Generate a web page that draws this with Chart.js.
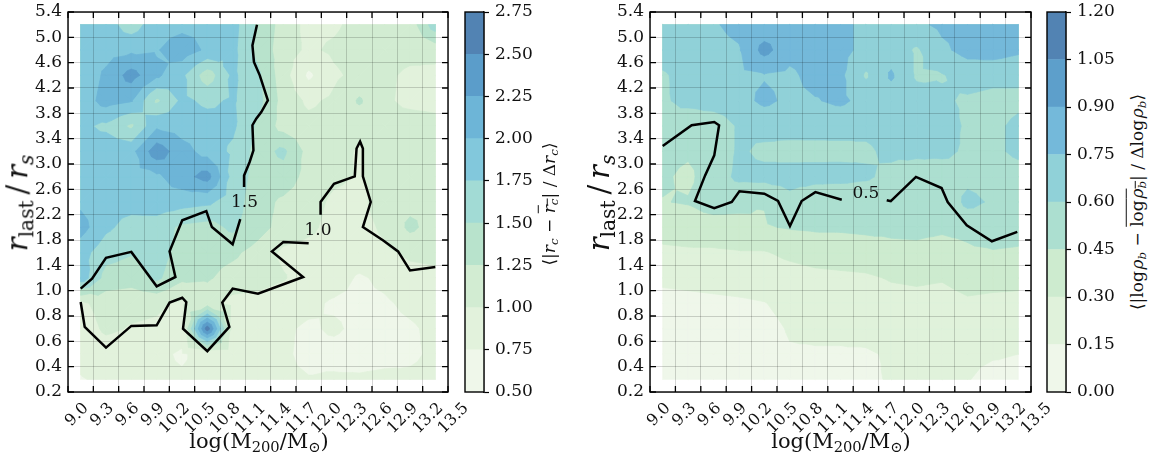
<!DOCTYPE html>
<html>
<head>
<meta charset="utf-8">
<script src="https://cdn.jsdelivr.net/npm/chart.js@4.4.0/dist/chart.umd.min.js"></script>
<style>
  body { margin: 0; background: #fff; width: 1159px; height: 466px; position: relative; overflow: hidden; font-family: 'DejaVu Serif', serif; color: #111; }
  canvas { position: absolute; top: 0; }
  .t { position: absolute; white-space: nowrap; transform: translate(-50%, -50%); line-height: 1; }
  .rot { transform: translate(-50%, -50%) rotate(-90deg); }
  sub { font-size: 70%; vertical-align: -0.3em; }
  .ov { text-decoration: overline; }
</style>
</head>
<body>
<canvas id="f1" width="480" height="466" style="left:0"></canvas>
<canvas id="c1" width="80" height="466" style="left:455px"></canvas>
<canvas id="f2" width="481" height="466" style="left:582px"></canvas>
<canvas id="c2" width="80" height="466" style="left:1037px"></canvas>

<div class="t rot" style="left:20px;top:203px;font-size:29px"><i>r</i><sub>last</sub>&thinsp;/&thinsp;<i>r</i><sub><i>s</i></sub></div>
<div class="t rot" style="left:602px;top:203px;font-size:29px"><i>r</i><sub>last</sub>&thinsp;/&thinsp;<i>r</i><sub><i>s</i></sub></div>
<div class="t" style="left:259px;top:443px;font-size:21px">log(M<sub>200</sub>/M<sub>⊙</sub>)</div>
<div class="t" style="left:841px;top:443px;font-size:21px">log(M<sub>200</sub>/M<sub>⊙</sub>)</div>
<div class="t rot" style="left:551px;top:204px;font-size:17px">⟨|<i>r</i><sub><i>c</i></sub> − <span class="ov"><i>r</i><sub><i>c</i></sub></span>| / Δ<i>r</i><sub><i>c</i></sub>⟩</div>
<div class="t rot" style="left:1139px;top:202px;font-size:17px">⟨|log&#8202;<i>ρ</i><sub><i>b</i></sub> − <span class="ov">log&#8202;<i>ρ</i><sub><i>b</i></sub></span>| / Δlog&#8202;<i>ρ</i><sub><i>b</i></sub>⟩</div>

<script>
// bin edges, used as tick labels (axes run over bin index 0..15)
const massEdges = ['9.0', '9.3', '9.6', '9.9', '10.2', '10.5', '10.8', '11.1', '11.4', '11.7', '12.0', '12.3', '12.6', '12.9', '13.2', '13.5'];
const rEdges = ['0.2', '0.4', '0.6', '0.8', '1.0', '1.4', '1.8', '2.2', '2.6', '3.0', '3.4', '3.8', '4.2', '4.6', '5.0', '5.4'];

// contour levels and fill colours
const rcLevels = [0.5, 0.75, 1.0, 1.25, 1.5, 1.75, 2.0, 2.25, 2.5, 2.75];
const rcColors = ['#eff7ea', '#e2f2dc', '#d2ecd2', '#b8e3cc', '#a2dbd5', '#82c8dc', '#6db5d7', '#5b9dca', '#5283b3'];
const rhoLevels = [0, 0.15, 0.3, 0.45, 0.6, 0.75, 0.9, 1.05, 1.2];
const rhoColors = ['#eff7ea', '#e0f2db', '#cdebcf', '#acdfd0', '#90d1d8', '#74b9da', '#5d9fcb', '#5283b3'];

// <|r_c - mean r_c| / dr_c> per bin; first row is the top one (r ~ 5.2), columns 9.15 .. 13.35
const rcGrid = [
  [1.88, 1.86, 1.62, 1.90, 1.92, 1.95, 1.85, 1.45, 1.15, 0.92, 0.95, 1.10, 1.15, 1.10, 1.65],
  [1.85, 1.90, 1.95, 1.98, 2.15, 1.95, 1.82, 1.42, 1.12, 0.95, 1.05, 1.15, 1.12, 1.08, 1.10],
  [1.80, 2.05, 2.35, 2.05, 1.80, 1.35, 1.80, 1.55, 1.10, 0.70, 0.95, 1.08, 1.05, 0.95, 0.92],
  [1.85, 2.10, 2.02, 1.45, 1.80, 1.70, 1.78, 1.58, 1.15, 0.95, 1.05, 1.28, 1.05, 0.92, 0.90],
  [1.80, 1.70, 1.45, 1.95, 1.88, 1.85, 1.80, 1.45, 1.15, 1.08, 1.10, 1.10, 1.12, 1.15, 1.10],
  [1.85, 1.90, 1.92, 2.40, 2.10, 1.90, 1.70, 1.40, 1.55, 1.15, 1.10, 0.97, 1.12, 1.15, 1.12],
  [1.85, 1.88, 1.90, 1.95, 2.15, 2.35, 1.65, 1.40, 1.40, 1.15, 1.05, 0.98, 1.10, 1.15, 1.15],
  [1.95, 1.85, 1.85, 1.90, 1.85, 1.80, 1.62, 1.35, 1.20, 1.10, 0.95, 0.92, 1.15, 1.18, 1.20],
  [2.10, 1.80, 1.65, 1.62, 1.45, 1.40, 1.55, 1.35, 1.15, 1.05, 0.92, 0.90, 1.05, 1.30, 1.15],
  [1.85, 1.60, 1.52, 1.62, 1.40, 1.35, 1.30, 1.15, 0.95, 0.92, 0.90, 0.88, 0.95, 1.05, 1.08],
  [1.90, 1.40, 1.35, 1.55, 1.30, 1.28, 1.15, 1.10, 1.02, 0.88, 0.85, 0.72, 0.80, 0.90, 0.92],
  [0.95, 1.10, 1.08, 1.05, 0.95, 1.10, 0.92, 0.90, 0.85, 0.80, 0.72, 0.70, 0.72, 0.80, 0.85],
  [0.85, 1.05, 0.98, 0.95, 0.85, 2.65, 0.90, 0.85, 0.78, 0.72, 0.78, 0.70, 0.68, 0.72, 0.80],
  [0.80, 0.85, 0.82, 0.80, 0.72, 0.85, 0.82, 0.80, 0.78, 0.70, 0.68, 0.66, 0.68, 0.72, 0.78],
  [0.74, 0.78, 0.80, 0.80, 0.78, 0.80, 0.80, 0.78, 0.78, 0.76, 0.78, 0.78, 0.80, 0.78, 0.80]
];

// <|log rho_b - mean log rho_b| / dlog rho_b>, same layout
const rhoGrid = [
  [0.70, 0.72, 0.74, 0.78, 0.80, 0.82, 0.80, 0.78, 0.72, 0.70, 0.72, 0.78, 0.80, 0.82, 0.80],
  [0.68, 0.70, 0.72, 0.74, 0.95, 0.80, 0.82, 0.80, 0.70, 0.68, 0.58, 0.72, 0.80, 0.82, 0.78],
  [0.58, 0.66, 0.70, 0.72, 0.74, 0.72, 0.80, 0.78, 0.58, 0.77, 0.58, 0.59, 0.66, 0.64, 0.62],
  [0.58, 0.64, 0.68, 0.70, 0.78, 0.72, 0.74, 0.78, 0.70, 0.68, 0.66, 0.62, 0.58, 0.56, 0.58],
  [0.56, 0.50, 0.49, 0.62, 0.65, 0.66, 0.65, 0.64, 0.63, 0.65, 0.67, 0.66, 0.58, 0.58, 0.62],
  [0.49, 0.47, 0.50, 0.62, 0.57, 0.55, 0.56, 0.57, 0.58, 0.63, 0.64, 0.63, 0.58, 0.58, 0.62],
  [0.47, 0.42, 0.53, 0.63, 0.64, 0.66, 0.65, 0.64, 0.62, 0.56, 0.50, 0.53, 0.56, 0.54, 0.56],
  [0.445, 0.46, 0.52, 0.49, 0.455, 0.55, 0.48, 0.49, 0.50, 0.50, 0.46, 0.47, 0.64, 0.58, 0.56],
  [0.36, 0.37, 0.38, 0.40, 0.44, 0.46, 0.47, 0.47, 0.48, 0.48, 0.48, 0.47, 0.48, 0.52, 0.51],
  [0.27, 0.28, 0.28, 0.29, 0.29, 0.33, 0.36, 0.37, 0.38, 0.41, 0.42, 0.40, 0.43, 0.44, 0.43],
  [0.18, 0.19, 0.20, 0.21, 0.22, 0.24, 0.26, 0.27, 0.28, 0.31, 0.32, 0.31, 0.35, 0.34, 0.33],
  [0.10, 0.11, 0.12, 0.13, 0.145, 0.19, 0.19, 0.20, 0.22, 0.25, 0.26, 0.25, 0.28, 0.27, 0.27],
  [0.08, 0.09, 0.09, 0.10, 0.11, 0.16, 0.17, 0.17, 0.18, 0.20, 0.20, 0.19, 0.22, 0.21, 0.21],
  [0.07, 0.08, 0.08, 0.09, 0.10, 0.14, 0.14, 0.14, 0.14, 0.16, 0.17, 0.16, 0.17, 0.16, 0.15],
  [0.06, 0.07, 0.07, 0.08, 0.09, 0.10, 0.11, 0.12, 0.13, 0.16, 0.16, 0.16, 0.155, 0.12, 0.12]
];

// contour lines, in bin-index coordinates (split where the inline label sits)
const rcLine15a = [[7.46, 14.5], [7.28, 13.68], [7.34, 13.03], [7.57, 12.5], [7.89, 11.51], [7.63, 11.05], [7.43, 10.79], [7.28, 10.53], [7.32, 9.54], [7.17, 9.08], [6.95, 8.55], [6.95, 8.09]];
const rcLine15b = [[6.8, 6.82], [6.5, 5.83], [5.68, 6.51], [5.46, 7.14], [4.51, 6.78], [4.01, 5.55], [4.24, 4.54], [3.5, 4.17], [2.5, 5.53], [1.5, 5.3], [0.95, 4.47], [0.5, 4.08]];
const rcLine10a = [[0.5, 3.55], [0.66, 2.57], [1.5, 1.75], [2.5, 2.61], [3.5, 2.63], [4.01, 3.53], [4.51, 3.72], [4.67, 3.55], [4.54, 2.5], [5.5, 1.61], [6.37, 2.57], [6.09, 3.53], [6.5, 4.08], [7.5, 3.88], [9.28, 4.54], [8.05, 5.55], [8.5, 5.92], [9.5, 5.87]];
const rcLine10b = [[9.97, 7.0], [9.97, 7.5], [10.5, 8.22], [11.32, 8.51], [11.39, 9.61], [11.53, 9.89], [11.64, 9.61], [11.64, 8.51], [11.95, 7.5], [11.64, 6.51], [12.43, 5.99], [13.03, 5.55], [13.5, 4.8], [14.5, 4.93]];
const rhoLine05a = [[0.5, 9.71], [1.64, 10.53], [2.53, 10.66], [2.72, 10.53], [2.53, 9.34], [2.17, 8.55], [1.77, 7.54], [2.53, 7.26], [3.22, 7.5], [3.52, 7.92], [4.5, 7.83], [5.04, 7.54], [5.51, 6.55], [5.97, 7.54], [6.51, 7.89], [7.55, 7.59]];
const rhoLine05b = [[9.32, 7.57], [9.48, 7.53], [10.47, 8.49], [11.48, 8.05], [11.72, 7.5], [12.47, 6.58], [13.46, 5.95], [14.46, 6.32]];

// inline contour labels: [text, x, y]
const rcLabels = [['1.5', 6.97, 7.47], ['1.0', 9.87, 6.38]];
const rhoLabels = [['0.5', 8.5, 7.83]];

Chart.defaults.font.family = "'DejaVu Serif', serif";
Chart.defaults.font.size = 17;
Chart.defaults.color = '#111';

// part of a triangle where the linear field is >= t
function clipAbove(poly, t) {
  const out = [];
  for (let q = 0; q < poly.length; q++) {
    const p1 = poly[q], p2 = poly[(q + 1) % poly.length];
    const in1 = p1.v >= t, in2 = p2.v >= t;
    if (in1) out.push(p1);
    if (in1 !== in2) {
      const f = (t - p1.v) / (p2.v - p1.v);
      out.push({ x: p1.x + f * (p2.x - p1.x), y: p1.y + f * (p2.y - p1.y), v: t });
    }
  }
  return out;
}

function framePlugin(tickLen) {
  return {
    id: 'frame',
    afterDraw(chart) {
      const { ctx, chartArea: a } = chart;
      ctx.save();
      ctx.strokeStyle = '#000';
      ctx.lineWidth = 1.4;
      ctx.strokeRect(a.left, a.top, a.right - a.left, a.bottom - a.top);
      if (tickLen) {
        const { x, y } = chart.scales;
        ctx.lineWidth = 1.3;
        ctx.beginPath();
        for (let v = 0; v <= 15; v++) {
          const px = x.getPixelForValue(v), py = y.getPixelForValue(v);
          ctx.moveTo(px, a.bottom); ctx.lineTo(px, a.bottom - tickLen);
          ctx.moveTo(px, a.top); ctx.lineTo(px, a.top + tickLen);
          ctx.moveTo(a.left, py); ctx.lineTo(a.left + tickLen, py);
          ctx.moveTo(a.right, py); ctx.lineTo(a.right - tickLen, py);
        }
        ctx.stroke();
      }
      ctx.restore();
    }
  };
}

// filled contours of the bin grid (values sit at bin centres), plus inline labels
function contourPlugin(grid, levels, colors, labels) {
  return {
    id: 'contourf',
    beforeDatasetsDraw(chart) {
      const { ctx, scales: { x, y } } = chart;
      const n = grid.length;
      const val = (i, j) => grid[n - 1 - j][i];
      const tris = [];
      for (let j = 0; j < n - 1; j++) {
        for (let i = 0; i < n - 1; i++) {
          const bl = { x: i + 0.5, y: j + 0.5, v: val(i, j) };
          const br = { x: i + 1.5, y: j + 0.5, v: val(i + 1, j) };
          const tr = { x: i + 1.5, y: j + 1.5, v: val(i + 1, j + 1) };
          const tl = { x: i + 0.5, y: j + 1.5, v: val(i, j + 1) };
          const m = { x: i + 1, y: j + 1, v: (bl.v + br.v + tr.v + tl.v) / 4 };
          tris.push([bl, br, m], [br, tr, m], [tr, tl, m], [tl, bl, m]);
        }
      }
      ctx.save();
      ctx.lineJoin = 'round';
      colors.forEach((c, k) => {
        ctx.beginPath();
        tris.forEach(t => {
          const p = k === 0 ? t : clipAbove(t, levels[k]);
          if (p.length < 3) return;
          p.forEach((q, idx) => {
            const px = x.getPixelForValue(q.x), py = y.getPixelForValue(q.y);
            if (idx) ctx.lineTo(px, py); else ctx.moveTo(px, py);
          });
          ctx.closePath();
        });
        ctx.fillStyle = c;
        ctx.strokeStyle = c;
        ctx.lineWidth = 0.7;
        ctx.fill();
        ctx.stroke();
      });
      ctx.restore();
    },
    afterDatasetsDraw(chart) {
      const { ctx, scales: { x, y } } = chart;
      ctx.save();
      ctx.font = "17px 'DejaVu Serif', serif";
      ctx.fillStyle = '#111';
      ctx.textAlign = 'center';
      ctx.textBaseline = 'middle';
      labels.forEach(([t, lx, ly]) => ctx.fillText(t, x.getPixelForValue(lx), y.getPixelForValue(ly)));
      ctx.restore();
    }
  };
}

function fieldChart(id, grid, levels, colors, lines, labels) {
  return new Chart(document.getElementById(id), {
    type: 'scatter',
    data: {
      datasets: lines.map(pts => ({
        data: pts.map(p => ({ x: p[0], y: p[1] })),
        showLine: true,
        borderColor: '#000',
        borderWidth: 2.5,
        pointRadius: 0,
        tension: 0
      }))
    },
    options: {
      responsive: false,
      animation: false,
      layout: { padding: { top: 12, right: 32 } },
      plugins: { legend: { display: false }, tooltip: { enabled: false } },
      scales: {
        x: {
          type: 'linear', min: 0, max: 15,
          grid: { color: 'rgba(0,0,0,0.17)', z: 1, drawTicks: false },
          border: { display: false },
          ticks: { font: { size: 16 }, stepSize: 1, autoSkip: false, maxRotation: 45, minRotation: 45, labelOffset: 18, padding: 7, callback: v => massEdges[v] },
          afterFit: s => { s.height = 74; s.paddingLeft = 0; s.paddingRight = 0; }
        },
        y: {
          type: 'linear', min: 0, max: 15,
          grid: { color: 'rgba(0,0,0,0.17)', z: 1, drawTicks: false },
          border: { display: false },
          ticks: { stepSize: 1, autoSkip: false, padding: 6, callback: v => rEdges[v] },
          afterFit: s => { s.width = 68; s.paddingTop = 0; s.paddingBottom = 0; }
        }
      }
    },
    plugins: [contourPlugin(grid, levels, colors, labels), framePlugin(6)]
  });
}

function colorbar(id, levels, colors) {
  return new Chart(document.getElementById(id), {
    type: 'bar',
    data: {
      labels: [''],
      datasets: colors.map((c, k) => ({
        data: [[levels[k], levels[k + 1]]],
        backgroundColor: c,
        borderWidth: 0,
        grouped: false,
        barPercentage: 1,
        categoryPercentage: 1
      }))
    },
    options: {
      responsive: false,
      animation: false,
      layout: { padding: { left: 10, top: 12, bottom: 74 } },
      plugins: { legend: { display: false }, tooltip: { enabled: false } },
      scales: {
        x: { display: false },
        y: {
          position: 'right',
          min: levels[0], max: levels[levels.length - 1],
          afterBuildTicks: s => { s.ticks = levels.map(v => ({ value: v })); },
          ticks: { padding: 6, callback: v => v.toFixed(2) },
          grid: { drawOnChartArea: false, tickLength: 5, tickColor: '#000', tickWidth: 1.2 },
          border: { color: '#222', width: 1.2 },
          afterFit: s => { s.width = 51; s.paddingTop = 0; s.paddingBottom = 0; }
        }
      }
    },
    plugins: [framePlugin(0)]
  });
}

fieldChart('f1', rcGrid, rcLevels, rcColors, [rcLine15a, rcLine15b, rcLine10a, rcLine10b], rcLabels);
colorbar('c1', rcLevels, rcColors);
fieldChart('f2', rhoGrid, rhoLevels, rhoColors, [rhoLine05a, rhoLine05b], rhoLabels);
colorbar('c2', rhoLevels, rhoColors);
</script>
</body>
</html>
